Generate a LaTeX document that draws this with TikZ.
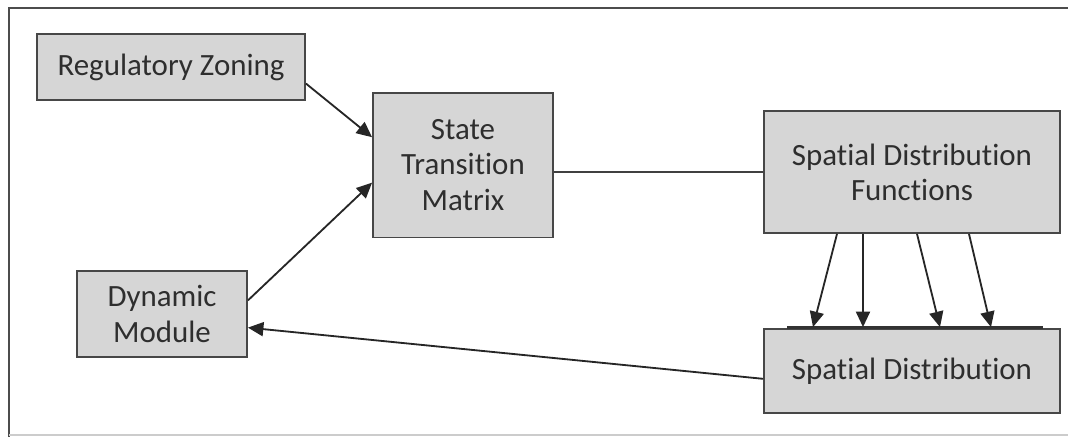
\documentclass[tikz,border=0pt]{standalone}
\usepackage{fontspec}
\setmainfont{Carlito}[Ligatures=NoCommon]
\usetikzlibrary{arrows.meta,calc}

\begin{document}
\begin{tikzpicture}[x=0.025cm, y=-0.025cm,
  box/.style={draw=black!72, fill=black!16, line width=1.3pt, align=center,
    inner sep=0pt, text=black!82, font=\fontsize{22}{25}\selectfont},
  arr/.style={-{Triangle[length=11pt,width=10pt]}, line width=1.3pt, draw=black!85}]
\useasboundingbox (0,0) rectangle (1068,437);
\draw[black!70, line width=2pt] (1068,8) -- (9,8) -- (9,437);
\draw[black!20, line width=1pt] (9,435) -- (1068,435);

\node[box, minimum width=6.7cm, minimum height=1.65cm] (zoning) at (171,67) {Regulatory Zoning};
\node[box, minimum width=4.5cm, minimum height=3.62cm] (matrix) at (463,165) {State\\Transition\\Matrix};
\node[box, minimum width=7.4cm, minimum height=3.05cm] (functions) at (912,172) {Spatial Distribution\\Functions};
\node[box, minimum width=4.25cm, minimum height=2.15cm] (dynamic) at (162,314) {Dynamic\\Module};
\node[box, minimum width=7.4cm, minimum height=2.1cm] (spatial) at (912,371) {Spatial Distribution};

\draw[line width=2.2pt, black!80] ($(spatial.north)+(-125,-1)$) -- ($(spatial.north)+(131,-1)$);

\draw[arr] (zoning.-7) -- (matrix.163);
\draw[arr] (dynamic.9) -- (matrix.191);
\draw[line width=1pt, black!75] (functions.west) -- (functions.west -| matrix.east);
\foreach \a/\b in {-75/-99, -49/-49, 5/28, 57/79}
  \draw[arr] ($(functions.south)+(\a,0)$) -- ($(spatial.north)+(\b,-1)$);
\draw[arr] (spatial.183) -- (dynamic.-9);
\end{tikzpicture}
\end{document}
